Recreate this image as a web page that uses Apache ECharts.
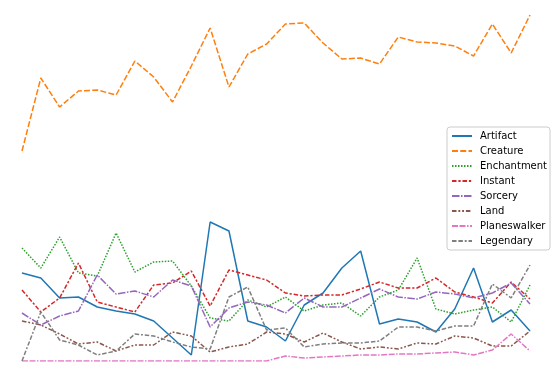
<!DOCTYPE html>
<html>
<head>
<meta charset="utf-8">
<script src="https://cdn.jsdelivr.net/npm/echarts@6/dist/echarts.min.js"></script>
<style>
  html, body { margin: 0; padding: 0; background: #fff; }
  #chart { width: 554px; height: 378px; }
</style>
</head>
<body>
<div id="chart"></div>
<script>
// one point per period, 28 periods
const periods = Array.from({ length: 28 }, (_, i) => String(i));

const artifact = [88, 83, 63, 64, 54, 50, 47, 40, 23, 6, 139, 130, 40, 34, 20, 56, 68, 93, 110, 37, 42, 39, 29, 52, 93, 39, 51, 30];
const creature = [210, 283, 254, 270, 271, 266, 300, 284, 259, 295, 333, 274, 307, 317, 337, 338, 318, 302, 303, 297, 324, 319, 318, 315, 305, 337, 308, 346];
const enchantment = [113, 93, 124, 88, 85, 128, 89, 99, 100, 75, 43, 40, 61, 54, 64, 50, 56, 58, 45, 64, 71, 103, 52, 47, 51, 54, 39, 76];
const instant = [71, 49, 63, 98, 59, 54, 49, 76, 78, 90, 55, 91, 86, 81, 68, 65, 66, 66, 72, 79, 73, 73, 83, 69, 64, 58, 79, 62];
const sorcery = [48, 36, 45, 50, 86, 67, 70, 64, 81, 75, 34, 53, 59, 56, 48, 63, 54, 54, 63, 72, 64, 62, 69, 67, 63, 68, 78, 57];
const land = [40, 36, 27, 17, 19, 10, 16, 16, 29, 25, 9, 14, 17, 29, 27, 19, 28, 19, 12, 14, 12, 18, 17, 25, 23, 15, 15, 30];
const planeswalker = [0, 0, 0, 0, 0, 0, 0, 0, 0, 0, 0, 0, 0, 0, 5, 3, 4, 5, 6, 6, 7, 7, 8, 9, 6, 11, 27, 10];
const legendary = [0, 49, 21, 16, 6, 10, 27, 25, 19, 14, 12, 64, 74, 31, 33, 14, 17, 18, 18, 20, 34, 34, 30, 35, 35, 77, 63, 96];

const names = ["Artifact", "Creature", "Enchantment", "Instant", "Sorcery", "Land", "Planeswalker", "Legendary"];
const values = [artifact, creature, enchantment, instant, sorcery, land, planeswalker, legendary];
const colors = ["#1f77b4", "#ff7f0e", "#2ca02c", "#d62728", "#9467bd", "#8c564b", "#e377c2", "#7f7f7f"];
// seaborn style dashes, scaled by line width 1.5
const dashes = [
  "solid",
  [6, 2.25],
  [1.5, 1.5],
  [4.5, 1.875, 2.25, 1.875],
  [7.5, 1.5, 1.5, 1.5],
  [4.5, 1.875, 1.875, 1.875, 1.875, 1.875],
  [6, 1.5, 6, 1.5, 1.5, 1.5],
  [4.5, 1.875, 4.5, 1.875, 1.875, 1.875],
];

const chart = echarts.init(document.getElementById("chart"), null, { renderer: "canvas" });

const option = {
  animation: false,
  color: colors,
  grid: { left: 22, right: 24, top: 15, bottom: 17 },
  legend: {
    data: names,
    orient: "vertical",
    left: 447,
    top: 127,
    padding: [4, 3, 4, 4],
    itemWidth: 20,
    itemHeight: 10,
    itemGap: 5,
    itemStyle: { opacity: 0 },
    lineStyle: { width: 2 },
    backgroundColor: "rgba(255,255,255,0.8)",
    borderColor: "#cccccc",
    borderWidth: 1,
    borderRadius: 3,
    textStyle: {
      fontFamily: "DejaVu Sans",
      fontSize: 10,
      color: "#000",
      padding: [0, 0, 0, 3],
    },
  },
  xAxis: {
    type: "category",
    boundaryGap: false,
    data: periods,
    show: false,
  },
  yAxis: {
    type: "value",
    min: 0,
    max: 346,
    show: false,
  },
  series: names.map((name, i) => ({
    name: name,
    type: "line",
    data: values[i],
    symbol: "none",
    lineStyle: { width: 1.5, color: colors[i], type: dashes[i] },
    itemStyle: { color: colors[i] },
  })),
};
option && chart.setOption(option);
</script>
</body>
</html>
